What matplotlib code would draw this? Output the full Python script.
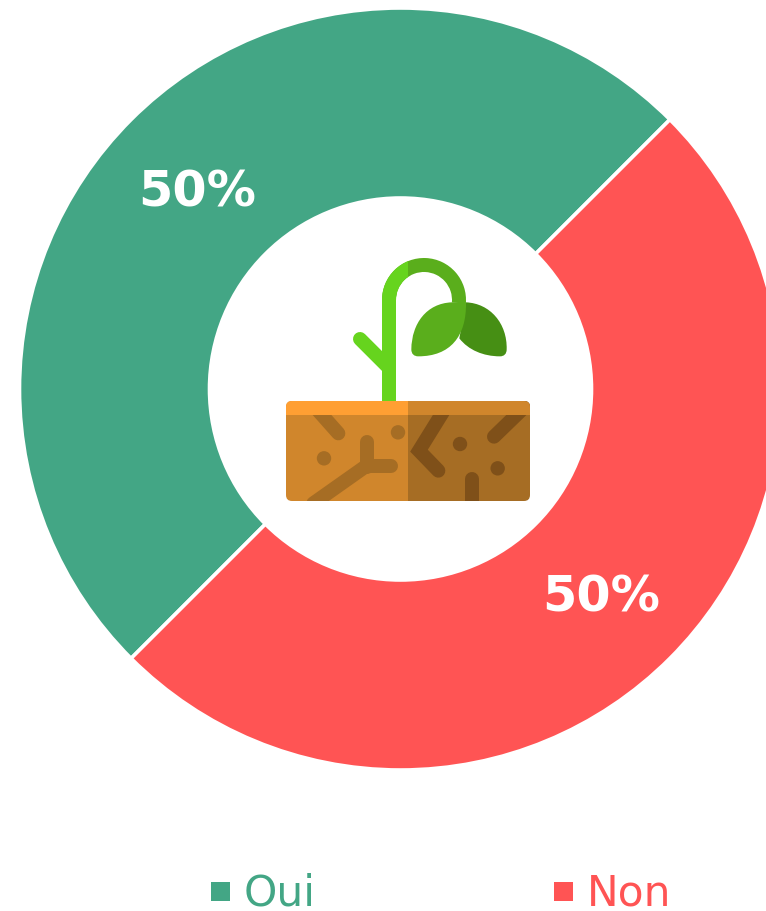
import matplotlib
matplotlib.use('Agg')
import matplotlib.pyplot as plt
from matplotlib.patches import Circle, FancyBboxPatch, PathPatch, Rectangle, Wedge
from matplotlib.path import Path

labels = ['Oui', 'Non']
values = [50, 50]
colors = ['#43a685', '#ff5454']

W, H = 766, 911
fig = plt.figure(figsize=(W / 100, H / 100), dpi=100)
ax = fig.add_axes([0, 0, 1, 1])


# icon and layout coordinates are read in image pixels, y going down
def py(y):
    return H - y


def zx(x):
    return 270 + x / 3


def zy(y):
    return py(240 + y / 3)


wedges, _, pcts = ax.pie(values, colors=colors, startangle=45, counterclock=True,
                         center=(400.5, py(389)), radius=381, autopct='%d%%', pctdistance=0.75,
                         wedgeprops={'width': 190, 'edgecolor': 'white', 'linewidth': 2.6})
for t in pcts:
    t.set_color('white')
    t.set_fontsize(35.5)
    t.set_fontweight('bold')
    t.set_ha('center')
    t.set_va('center')
    x, y = t.get_position()
    t.set_position((x - 1, y - 6))

ax.set_xlim(0, W)
ax.set_ylim(0, H)
ax.axis('off')

# soil block
SOIL_L, SOIL_R, SOIL_T, SOIL_B, SPLIT = 286, 530, 401, 501, 408
LW = 14 * 0.72

clip = FancyBboxPatch((SOIL_L + 6, py(SOIL_B) + 6), SOIL_R - SOIL_L - 12, SOIL_B - SOIL_T - 12,
                      boxstyle='round,pad=6,rounding_size=6', lw=0, fc='none')
ax.add_patch(clip)


def clipped_rect(x0, x1, y0, y1, color, z=1):
    r = Rectangle((x0, py(y1)), x1 - x0, y1 - y0, fc=color, lw=0, zorder=z)
    ax.add_patch(r)
    r.set_clip_path(clip)


def root(xs, ys, color):
    line, = ax.plot([zx(x) for x in xs], [zy(y) for y in ys], color=color, lw=LW,
                    solid_capstyle='round', solid_joinstyle='miter')
    line.set_clip_path(clip)


def dot(x, y, color):
    ax.add_patch(Circle((zx(x), zy(y)), 7.2, fc=color, lw=0, zorder=2))


LEFT, RIGHT, DARK, TOP = '#d0862c', '#a66d24', '#7f5019', '#ff9f33'
clipped_rect(SOIL_L, SPLIT, SOIL_T, SOIL_B, LEFT)
clipped_rect(SPLIT, SOIL_R, SOIL_T, SOIL_B, RIGHT)

root([125, 205], [490, 580], RIGHT)
root([290, 290], [605, 680], RIGHT)
root([290, 363], [677, 677], RIGHT)
root([290, 130], [677, 790], RIGHT)
dot(384, 577, RIGHT)
dot(162, 655, RIGHT)

root([535, 447, 505], [490, 632, 692], DARK)
root([605, 605], [718, 800], DARK)
root([672, 770], [590, 495], DARK)
dot(570, 612, DARK)
dot(683, 685, DARK)

clipped_rect(SOIL_L, SPLIT, SOIL_T, 415, TOP, z=3)
clipped_rect(SPLIT, SOIL_R, SOIL_T, 415, LEFT, z=3)

# plant
STEM, STEM_DARK, LEAF, LEAF_DARK = '#66d41e', '#5aae1c', '#5aae1c', '#468f14'

right_leaf = Path([(zx(588), zy(187)), (zx(660), zy(190)), (zx(712), zy(250)), (zx(710), zy(328)),
                   (zx(710), zy(342)), (zx(702), zy(349)), (zx(690), zy(349)),
                   (zx(640), zy(349)), (zx(595), zy(330)), (zx(568), zy(295)),
                   (zx(588), zy(187))],
                  [Path.MOVETO] + [Path.CURVE4] * 9 + [Path.LINETO])
ax.add_patch(PathPatch(right_leaf, fc=LEAF_DARK, lw=0))

left_leaf = Path([(zx(545), zy(187)), (zx(470), zy(190)), (zx(425), zy(250)), (zx(424), zy(328)),
                  (zx(424), zy(342)), (zx(432), zy(349)), (zx(445), zy(349)),
                  (zx(540), zy(349)), (zx(590), zy(290)), (zx(588), zy(187)),
                  (zx(545), zy(187))],
                 [Path.MOVETO] + [Path.CURVE4] * 9 + [Path.LINETO])
ax.add_patch(PathPatch(left_leaf, fc=LEAF, lw=0))

ax.add_patch(Rectangle((382, py(401)), 14, 101, fc=STEM, lw=0))
arc_dark = Wedge((424, py(300)), 42, -5, 180, width=14, fc=STEM_DARK, lw=0)
ax.add_patch(arc_dark)
arc_light = Wedge((424, py(300)), 42, 90, 180, width=14, fc=STEM, lw=0)
ax.add_patch(arc_light)
arc_clip = Rectangle((370, py(320)), 38, 70, fc='none', lw=0)
ax.add_patch(arc_clip)
arc_light.set_clip_path(arc_clip)
ax.plot([360, 389], [py(339), py(368)], color=STEM, lw=LW, solid_capstyle='round')

# legend
leg_sq = [211, 554]
leg_txt = [244, 587]
for name, color, sx, tx in zip(labels, colors, leg_sq, leg_txt):
    ax.add_patch(Rectangle((sx, py(901)), 19, 19, fc=color, lw=0))
    ax.text(tx, py(906), name, color=color, fontsize=30.5, ha='left', va='baseline')

fig.savefig('out.png', dpi=100)
